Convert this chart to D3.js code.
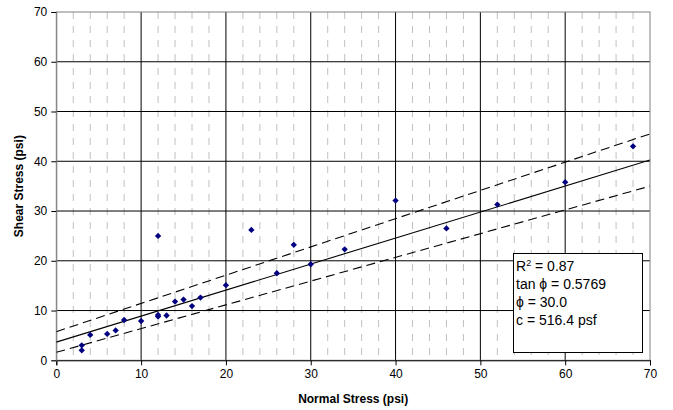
<!DOCTYPE html>
<html><head><meta charset="utf-8">
<script src="https://cdn.jsdelivr.net/npm/d3@7"></script>
<style>
html,body{margin:0;padding:0;background:#fff;}
svg{display:block;font-family:"Liberation Sans",Arial,sans-serif;}
</style></head>
<body>
<svg id="chart" width="673" height="410"></svg>
<script>
const normalStress = [3,3,4,6,7,8,10,12,12,12,13,14,15,16,17,20,23,26,28,30,34,40,46,52,60,68];
const shearStress  = [3.0,2.0,5.1,5.3,6.0,8.1,7.9,9.1,8.8,25.0,9.0,11.8,12.2,10.9,12.6,15.1,26.2,17.5,23.2,19.3,22.3,32.1,26.5,31.3,35.8,43.0];
const lineX = [0,70];
const fitY = [3.65,40.25];
const upperY = [5.75,45.5];
const lowerY = [1.6,35.0];
const xTicks = [0,10,20,30,40,50,60,70];
const yTicks = [0,10,20,30,40,50,60,70];
const minorX = d3.range(0,71,2);
const statLines = ["R2 = 0.87","tan \u03D5 = 0.5769","\u03D5 = 30.0","c = 516.4 psf"];
const xTitle = "Normal Stress (psi)";
const yTitle = "Shear Stress (psi)";

const svg = d3.select("#chart");
const L=56.3, R=650, T=12, B=360.3;
const x = d3.scaleLinear().domain([0,70]).range([L,R]);
const y = d3.scaleLinear().domain([0,70]).range([B,T]);

const g = svg.append("g");
g.selectAll(".minor").data(minorX.filter(v=>v%10!==0)).join("line")
  .attr("x1",d=>x(d)).attr("x2",d=>x(d)).attr("y1",T).attr("y2",B)
  .attr("stroke","#c0c0c0").attr("stroke-width",1).attr("stroke-dasharray","7,7");
g.selectAll(".vmaj").data(xTicks.slice(1,-1)).join("line")
  .attr("x1",d=>x(d)).attr("x2",d=>x(d)).attr("y1",T).attr("y2",B)
  .attr("stroke","#000").attr("stroke-width",1);
g.selectAll(".hmaj").data(yTicks.slice(1,-1)).join("line")
  .attr("x1",L).attr("x2",R).attr("y1",d=>y(d)).attr("y2",d=>y(d))
  .attr("stroke","#000").attr("stroke-width",1);
g.append("rect").attr("x",L).attr("y",T).attr("width",R-L).attr("height",B-T)
  .attr("fill","none").attr("stroke","#808080").attr("stroke-width",1);

const xAxis = d3.axisBottom(x).tickValues(xTicks).tickSize(5).tickPadding(4).tickFormat(d3.format("d"));
const yAxis = d3.axisLeft(y).tickValues(yTicks).tickSize(5).tickPadding(4).tickFormat(d3.format("d"));
const gx = svg.append("g").attr("transform",`translate(0,${B})`).call(xAxis);
const gy = svg.append("g").attr("transform",`translate(${L},0)`).call(yAxis);
[gx,gy].forEach(a=>{
  a.select(".domain").attr("stroke","#000");
  a.selectAll(".tick line").attr("stroke","#000");
  a.selectAll(".tick text").attr("fill","#000").style("font-size","12px").style("font-family","Liberation Sans, Arial, sans-serif");
});
gy.select(".domain").attr("stroke","#808080");

svg.append("clipPath").attr("id","pc").append("rect").attr("x",L).attr("y",T).attr("width",R-L).attr("height",B-T);
const lg = svg.append("g").attr("clip-path","url(#pc)");
const lineGen = d3.line().x(d=>x(d[0])).y(d=>y(d[1]));
lg.append("path").attr("d",lineGen(lineX.map((v,i)=>[v,fitY[i]]))).attr("stroke","#000").attr("fill","none").attr("stroke-width",1.1);
lg.append("path").attr("d",lineGen(lineX.map((v,i)=>[v,upperY[i]]))).attr("stroke","#000").attr("fill","none").attr("stroke-width",1.1).attr("stroke-dasharray","9,5");
lg.append("path").attr("d",lineGen(lineX.map((v,i)=>[v,lowerY[i]]))).attr("stroke","#000").attr("fill","none").attr("stroke-width",1.1).attr("stroke-dasharray","9,5");

const marker = d3.symbol().type(d3.symbolSquare).size(20);
svg.append("g").selectAll("path").data(normalStress.map((v,i)=>[v,shearStress[i]])).join("path")
  .attr("d",marker).attr("transform",d=>`translate(${x(d[0])},${y(d[1])}) rotate(45)`).attr("fill","#000080");

const bx=513.5, by=253.5, bw=129, bh=99;
svg.append("rect").attr("x",bx).attr("y",by).attr("width",bw).attr("height",bh).attr("fill","#fff").attr("stroke","#000").attr("stroke-width",1);
const st = svg.append("g").style("font-size","14px").attr("fill","#000");
statLines.forEach((s,i)=>{
  const t = st.append("text").attr("x",bx+2.5).attr("y",by+17+i*18.2);
  if(i===0){
    t.append("tspan").text("R");
    t.append("tspan").text("2").attr("dy",-5).style("font-size","9px");
    t.append("tspan").text(" = 0.87").attr("dy",5);
  } else t.text(s);
});

svg.append("text").attr("x",(L+R)/2).attr("y",403).attr("text-anchor","middle")
  .style("font-size","12px").style("font-weight","bold").text(xTitle);
svg.append("text").attr("transform",`translate(23,${(T+B)/2}) rotate(-90)`).attr("text-anchor","middle")
  .style("font-size","12px").style("font-weight","bold").text(yTitle);
</script>
</body></html>
